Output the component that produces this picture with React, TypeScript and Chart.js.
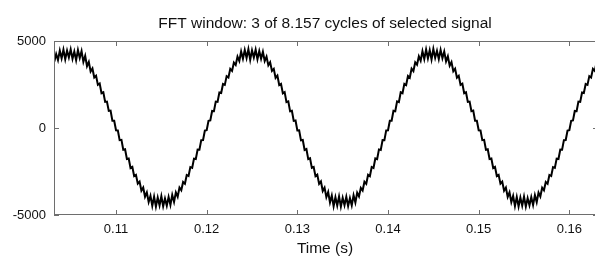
import React, { useEffect, useRef } from "react";
import { Chart, registerables } from "chart.js";

Chart.register(...registerables);

const TITLE = "FFT window: 3 of 8.157 cycles of selected signal";
const X_LABEL = "Time (s)";
const X_MIN = 0.10316;
const X_MAX = 0.16316;
const Y_MIN = -5000;
const Y_MAX = 5000;
const X_TICKS = [0.11, 0.12, 0.13, 0.14, 0.15, 0.16];
const X_TICK_LABELS = ["0.11", "0.12", "0.13", "0.14", "0.15", "0.16"];
const Y_TICKS = [-5000, 0, 5000];
const Y_TICK_LABELS = ["-5000", "0", "5000"];

// sampling of the signal
const T_START = 0.1032;
const T_STEP = 0.0002;

const SIGNAL = [
  3820, 4250, 3900, 4450, 4000, 4500, 3950, 4450, 4050, 4520,
  3980, 4400, 3900, 4480, 4020, 4420, 3800, 4150, 3550, 3800,
  3250, 3420, 2900, 3000, 2480, 2560, 2000, 2050, 1500, 1520,
  980, 1000, 420, 420, -130, -140, -700, -680, -1250, -1220,
  -1780, -1750, -2300, -2230, -2760, -2690, -3200, -3080, -3600, -3420,
  -3950, -3700, -4250, -3900, -4480, -3950, -4520, -4000, -4450, -3920,
  -4500, -4050, -4470, -3960, -4420, -3850, -4250, -3700, -3950, -3420,
  -3580, -3100, -3200, -2700, -2760, -2250, -2290, -1760, -1780, -1240,
  -1250, -700, -690, -150, -120, 410, 430, 980, 970, 1520,
  1500, 2040, 2010, 2530, 2480, 2980, 2900, 3400, 3280, 3760,
  3620, 4100, 3850, 4400, 3980, 4480, 4020, 4530, 3920, 4460,
  4050, 4500, 3950, 4420, 3980, 4380, 3850, 4100, 3600, 3780,
  3280, 3400, 2880, 3010, 2470, 2540, 1990, 2060, 1490, 1530,
  960, 990, 410, 430, -140, -130, -710, -690, -1260, -1210,
  -1790, -1740, -2290, -2240, -2770, -2680, -3210, -3070, -3620, -3430,
  -3980, -3680, -4280, -3880, -4500, -3980, -4460, -3930, -4520, -4010,
  -4440, -3950, -4490, -4030, -4450, -3870, -4280, -3720, -3930, -3440,
  -3590, -3090, -3210, -2690, -2770, -2240, -2300, -1750, -1790, -1230,
  -1260, -690, -700, -140, -130, 420, 420, 990, 960, 1530,
  1490, 2050, 2000, 2540, 2470, 2990, 2890, 3410, 3270, 3770,
  3640, 4120, 3870, 4420, 3960, 4510, 4000, 4470, 3940, 4540,
  4030, 4440, 3960, 4490, 4010, 4400, 3830, 4120, 3580, 3790,
  3260, 3410, 2890, 3000, 2480, 2550, 2000, 2050, 1500, 1520,
  970, 1000, 420, 420, -130, -140, -700, -680, -1250, -1220,
  -1780, -1750, -2300, -2230, -2760, -2690, -3200, -3080, -3600, -3420,
  -3960, -3700, -4260, -3900, -4490, -3960, -4510, -4000, -4460, -3940,
  -4520, -4030, -4450, -3970, -4430, -3860, -4260, -3710, -3940, -3430,
  -3580, -3100, -3200, -2700, -2760, -2250, -2290, -1760, -1780, -1240,
  -1250, -700, -690, -150, -120, 410, 430, 980, 970, 1520,
  1500, 2040, 2010, 2530, 2480, 2980, 2900, 3400, 3280, 3760,
];

const FONT = '"Liberation Sans", Arial, Helvetica, sans-serif';
const TEXT_COLOR = "#111";
const AXIS_COLOR = "#6e6e6e";

const boxPlugin = {
  id: "matlabBox",
  afterDraw(chart: any) {
    const { ctx, chartArea } = chart;
    const { left, right, top, bottom } = chartArea;
    const xs = chart.scales.x;
    const ys = chart.scales.y;
    ctx.save();
    ctx.strokeStyle = AXIS_COLOR;
    ctx.lineWidth = 1;
    ctx.strokeRect(left + 0.5, top + 0.5, right - left - 1, bottom - top - 1);
    const tl = 5;
    ctx.beginPath();
    X_TICKS.forEach((v) => {
      const px = Math.round(xs.getPixelForValue(v)) + 0.5;
      ctx.moveTo(px, bottom);
      ctx.lineTo(px, bottom - tl);
      ctx.moveTo(px, top);
      ctx.lineTo(px, top + tl);
    });
    Y_TICKS.forEach((v) => {
      const py = Math.round(ys.getPixelForValue(v)) + 0.5;
      ctx.moveTo(left, py);
      ctx.lineTo(left + tl, py);
      ctx.moveTo(right, py);
      ctx.lineTo(right - tl, py);
    });
    ctx.stroke();
    ctx.fillStyle = TEXT_COLOR;
    ctx.font = `15.5px ${FONT}`;
    ctx.textAlign = "center";
    ctx.textBaseline = "middle";
    ctx.fillText(TITLE, (left + right) / 2 - 1, 24);
    ctx.fillText(X_LABEL, (left + right) / 2 - 1, 249);
    ctx.restore();
  },
};

export default function App() {
  const ref = useRef<HTMLCanvasElement>(null);
  useEffect(() => {
    if (!ref.current) return;
    const points = SIGNAL.map((v, i) => ({ x: T_START + T_STEP * i, y: v }));
    const chart = new Chart(ref.current, {
      type: "line",
      data: {
        datasets: [
          {
            data: points,
            borderColor: "#000",
            borderWidth: 2,
            pointRadius: 0,
            tension: 0,
            fill: false,
          },
        ],
      },
      options: {
        animation: false,
        responsive: false,
        devicePixelRatio: 1,
        layout: { padding: { top: 41, right: 7, left: 0, bottom: 0 } },
        plugins: { legend: { display: false }, tooltip: { enabled: false }, title: { display: false } },
        scales: {
          x: {
            type: "linear",
            min: X_MIN,
            max: X_MAX,
            grid: { display: false, drawTicks: false },
            border: { display: false },
            afterBuildTicks: (s: any) => {
              s.ticks = X_TICKS.map((v) => ({ value: v }));
            },
            afterFit: (s: any) => {
              s.height = 42;
            },
            ticks: {
              padding: 7,
              maxRotation: 0,
              autoSkip: false,
              color: TEXT_COLOR,
              font: { family: FONT, size: 13 },
              callback: (v: any) => {
                const idx = X_TICKS.findIndex((t) => Math.abs(t - Number(v)) < 1e-9);
                return idx >= 0 ? X_TICK_LABELS[idx] : "";
              },
            },
          },
          y: {
            type: "linear",
            min: Y_MIN,
            max: Y_MAX,
            grid: { display: false, drawTicks: false },
            border: { display: false },
            afterBuildTicks: (s: any) => {
              s.ticks = Y_TICKS.map((v) => ({ value: v }));
            },
            afterFit: (s: any) => {
              s.width = 54;
            },
            ticks: {
              padding: 8,
              autoSkip: false,
              color: TEXT_COLOR,
              font: { family: FONT, size: 13 },
              callback: (v: any) => {
                const idx = Y_TICKS.indexOf(Number(v));
                return idx >= 0 ? Y_TICK_LABELS[idx] : "";
              },
            },
          },
        },
      },
      plugins: [boxPlugin],
    });
    return () => chart.destroy();
  }, []);
  return (
    <div
      style={{
        position: "absolute",
        left: 0,
        top: 0,
        width: 595,
        height: 257,
        overflow: "hidden",
        background: "#fff",
      }}
    >
      <canvas ref={ref} width={605} height={257} style={{ display: "block" }} />
    </div>
  );
}
